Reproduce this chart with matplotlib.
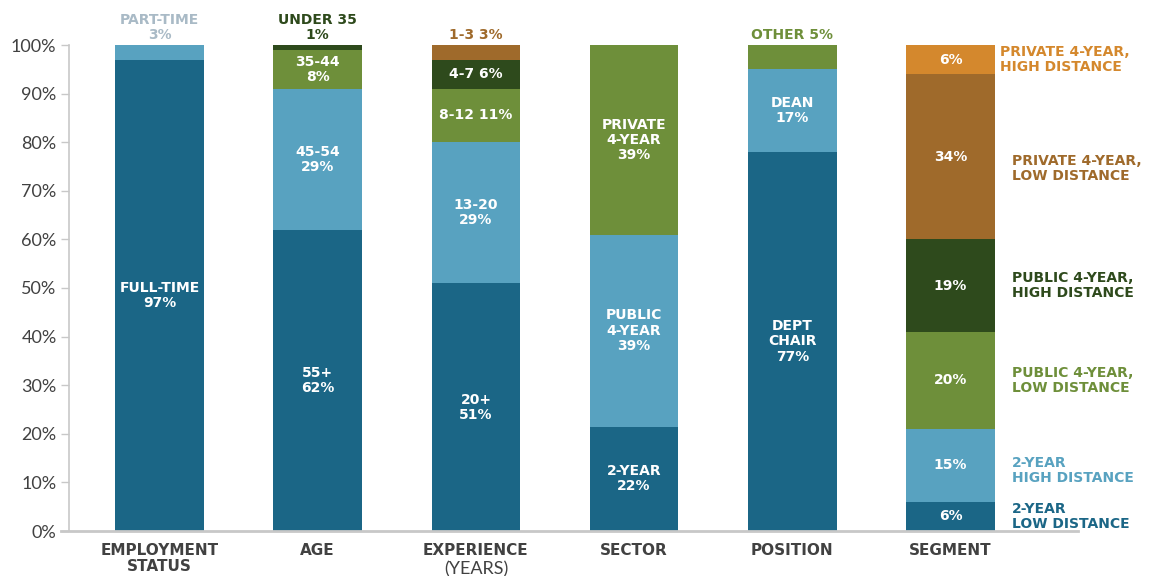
import numpy as np
import matplotlib
matplotlib.use("Agg")
import matplotlib.pyplot as plt

plt.rcParams['font.family'] = ['Lato', 'DejaVu Sans']
BOLDFONT = ['DejaVu Sans']

# categories along the x axis
categories = ["EMPLOYMENT\nSTATUS", "AGE", "EXPERIENCE", "SECTOR", "POSITION", "SEGMENT"]

# stacked segments, bottom -> top (heights)
employment = [97, 3]
employment_lab = ["FULL-TIME\n97%", "PART-TIME\n3%"]
age = [62, 29, 8, 1]
age_lab = ["55+\n62%", "45-54\n29%", "35-44\n8%", "UNDER 35\n1%"]
experience = [51, 29, 11, 6, 3]
experience_lab = ["20+\n51%", "13-20\n29%", "8-12 11%", "4-7 6%", "1-3 3%"]
sector = [21.5, 39.5, 39]
sector_lab = ["2-YEAR\n22%", "PUBLIC\n4-YEAR\n39%", "PRIVATE\n4-YEAR\n39%"]
position = [78, 17, 5]
position_lab = ["DEPT\nCHAIR\n77%", "DEAN\n17%", "OTHER 5%"]
segment = [6, 15, 20, 19, 34, 6]
segment_lab = ["6%", "15%", "20%", "19%", "34%", "6%"]
segment_names = ["2-YEAR\nLOW DISTANCE", "2-YEAR\nHIGH DISTANCE",
                 "PUBLIC 4-YEAR,\nLOW DISTANCE", "PUBLIC 4-YEAR,\nHIGH DISTANCE",
                 "PRIVATE 4-YEAR,\nLOW DISTANCE", "PRIVATE 4-YEAR,\nHIGH DISTANCE"]

DBLUE = "#1b6686"
LBLUE = "#58a2c0"
GREEN = "#6e8f3a"
DGREEN = "#2e4a1c"
BROWN = "#9f6a2b"
ORANGE = "#d4882d"
GRAYTXT = "#414141"

bars = [
    (employment, employment_lab, [DBLUE, LBLUE]),
    (age, age_lab, [DBLUE, LBLUE, GREEN, DGREEN]),
    (experience, experience_lab, [DBLUE, LBLUE, GREEN, DGREEN, BROWN]),
    (sector, sector_lab, [DBLUE, LBLUE, GREEN]),
    (position, position_lab, [DBLUE, LBLUE, GREEN]),
    (segment, segment_lab, [DBLUE, LBLUE, GREEN, DGREEN, BROWN, ORANGE]),
]

# labels that sit above the bar instead of inside it: (bar, segment, colour)
outside = {(0, 1): "#a9bac6", (1, 3): DGREEN, (2, 4): BROWN, (4, 2): GREEN}

fig = plt.figure(figsize=(11.51, 5.76), dpi=100)
ax = fig.add_axes([69/1151, 45/576, (1078-69)/1151, 486/576])

x = np.arange(len(categories))
width = 0.56
LS = 1.1
for i, (vals, labs, cols) in enumerate(bars):
    bottom = 0
    for j, v in enumerate(vals):
        ax.bar(x[i], v, width, bottom=bottom, color=cols[j], linewidth=0)
        if (i, j) in outside:
            ax.text(x[i], 100.6, labs[j], ha="center", va="bottom", color=outside[(i, j)],
                    fontsize=10, fontweight="bold", family=BOLDFONT, linespacing=LS)
        else:
            ax.text(x[i], bottom + v/2, labs[j], ha="center", va="center", color="white",
                    fontsize=10, fontweight="bold", family=BOLDFONT, linespacing=LS)
        bottom += v

# segment legend labels to the right of the last bar
bottom = 0
for j, v in enumerate(segment):
    col = bars[5][2][j]
    xx = x[5] + (0.315 if j == 5 else 0.39)
    yy = bottom + v/2
    if j == 0:
        yy = 3.0
    if j == 1:
        yy = 12.5
    if j == 4:
        yy = 74.5
    ax.text(xx, yy, segment_names[j], ha="left", va="center", color=col,
            fontsize=10, fontweight="bold", family=BOLDFONT, linespacing=LS)
    bottom += v

ax.set_xlim(-0.572, 5.806)
ax.set_ylim(0, 100)
ax.set_yticks(np.arange(0, 101, 10))
ax.set_yticklabels([f"{t}%" for t in range(0, 101, 10)], fontsize=13, color=GRAYTXT)
ax.tick_params(axis="y", length=6, width=1, color="#c8c8c8", pad=3)
ax.set_xticks([])

for s in ["top", "right"]:
    ax.spines[s].set_visible(False)
ax.spines["left"].set_color("#c8c8c8")
ax.spines["left"].set_linewidth(1.2)
ax.spines["bottom"].set_color("#c8c8c8")
ax.spines["bottom"].set_linewidth(2)
ax.spines["bottom"].set_bounds(-0.62, 5.806)

for i, c in enumerate(categories):
    ax.text(x[i], -2.4, c, ha="center", va="top", color=GRAYTXT, fontsize=11,
            fontweight="bold", family=BOLDFONT, linespacing=1.1, clip_on=False)
ax.text(x[2], -6.2, "(YEARS)", ha="center", va="top", color=GRAYTXT, fontsize=13,
        clip_on=False)

fig.savefig("out.png", dpi=100)
